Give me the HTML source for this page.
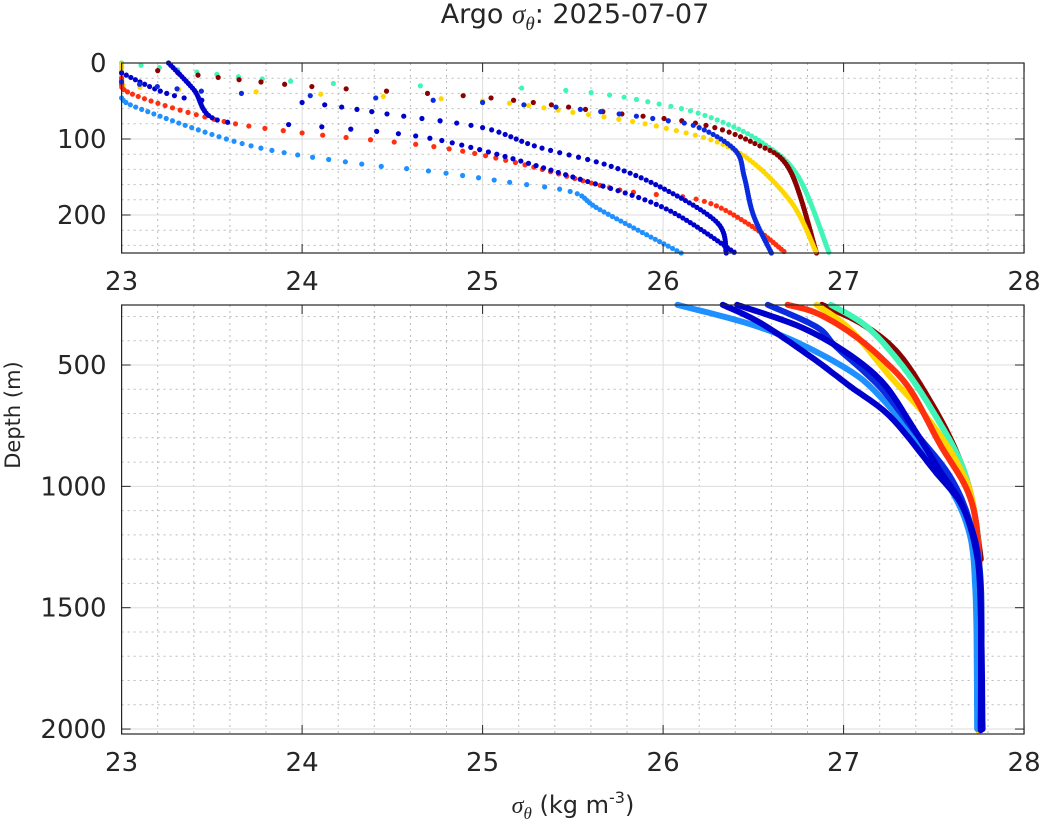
<!DOCTYPE html><html><head><meta charset="utf-8"><style>
body{margin:0;background:#fff}
svg text{font-family:"DejaVu Sans","Liberation Sans",sans-serif;fill:#262626}
</style></head><body>
<svg id="s" width="1044" height="835" xmlns="http://www.w3.org/2000/svg"></svg>
<script>
(function(){
const s=document.getElementById('s');const NS='http://www.w3.org/2000/svg';
function el(t,a,txt){const e=document.createElementNS(NS,t);for(const k in a)e.setAttribute(k,a[k]);if(txt!==undefined)e.textContent=txt;s.appendChild(e);return e;}
const X=v=>121.6+(v-23)*180.5;
const Yt=d=>63+d*0.76;
const Yb=d=>365+(d-500)*0.2427;
const L=121.6,R=1024;
function grid(t0,b0,Y,majors,minors){
 for(let v=23.2;v<28;v+=0.2){if(Math.abs(v-Math.round(v))<0.01)continue;el('line',{x1:X(v),x2:X(v),y1:t0,y2:b0,stroke:'#bbb','stroke-width':1,'stroke-dasharray':'2,4'});}
 minors.forEach(d=>el('line',{x1:L,x2:R,y1:Y(d),y2:Y(d),stroke:'#bbb','stroke-width':1,'stroke-dasharray':'2,4'}));
 for(let v=24;v<28;v++)el('line',{x1:X(v),x2:X(v),y1:t0,y2:b0,stroke:'#ddd','stroke-width':1});
 majors.forEach(d=>el('line',{x1:L,x2:R,y1:Y(d),y2:Y(d),stroke:'#ddd','stroke-width':1}));
}
grid(63,253,Yt,[100,200],[20,40,60,80,120,140,160,180,220,240]);
let mb=[];for(let d=300;d<=2000;d+=100)if(d%500)mb.push(d);
grid(305,734,Yb,[500,1000,1500,2000],mb);
const C={lb:'#1e90ff',db:'#0000cd',bl:'#0a2be0',rd:'#ff3010',dr:'#8b0000',ye:'#ffd700',cy:'#40f5b5'};
function cr(p,n){const out=[];for(let i=0;i<p.length-1;i++){const p0=p[Math.max(0,i-1)],p1=p[i],p2=p[i+1],p3=p[Math.min(p.length-1,i+2)];
 for(let k=0;k<n;k++){const t=k/n,t2=t*t,t3=t2*t;const f=(a,b,c,d)=>0.5*((2*b)+(-a+c)*t+(2*a-5*b+4*c-d)*t2+(-a+3*b-3*c+d)*t3);
 out.push([f(p0[0],p1[0],p2[0],p3[0]),f(p0[1],p1[1],p2[1],p3[1])]);}}out.push(p[p.length-1]);return out;}
const topP=[
['cy',[[23,0],[24,25],[25.4,35],[26,55],[26.3,75],[26.55,105],[26.75,150],[26.92,250]]],
['dr',[[23.2,10],[24,30],[25,45],[25.7,65],[26.2,80],[26.5,105],[26.7,140],[26.85,250]]],
['ye',[[23,2],[23.03,30],[24,40],[25,50],[25.5,65],[26,85],[26.4,115],[26.7,180],[26.85,250]]],
['lb',[[23,46],[23.1,60],[23.7,108],[24.3,132],[24.7,142],[25.15,157],[25.5,170],[25.65,193],[26.1,250]]],
['rd',[[23,20],[23.05,40],[23.53,75],[24,92],[24.73,110],[25.2,132],[25.76,167],[26.2,180],[26.48,213],[26.68,250]]],
['db',[[23.26,0],[23.4,35],[23.53,75],[24,82],[24.6,95],[25,115],[25.5,150],[26,190],[26.4,250]]],
['db',[[23,13],[23.25,40],[23.5,50],[24,52],[24.5,68],[25,85],[25.3,110],[25.7,135],[26,165],[26.3,210],[26.35,250]]],
['bl',[[23,25],[23.5,38],[24.3,45],[25,52],[25.5,60],[26,75],[26.2,85],[26.4,115],[26.45,150],[26.5,200],[26.6,250]]],
];
function interp(p,d){for(let i=1;i<p.length;i++){if(d<=p[i][1]){const f=(d-p[i-1][1])/((p[i][1]-p[i-1][1])||1);return p[i-1][0]+(p[i][0]-p[i-1][0])*f;}}return p[p.length-1][0];}
topP.forEach(([c,p])=>{const q=cr(p,20);for(let d=p[0][1];d<=250;d+=3){const v=Math.max(23,interp(q,d));el('circle',{cx:X(v),cy:Yt(d),r:2.6,fill:C[c]});}});
const bot=[
['dr',[[26.88,252],[27.1,330],[27.3,450],[27.48,650],[27.62,850],[27.71,1050],[27.76,1300]]],
['cy',[[26.93,252],[27.13,343],[27.33,508],[27.5,698],[27.65,904],[27.72,1097],[27.75,1300],[27.75,1750]]],
['ye',[[26.85,252],[27.04,356],[27.26,549],[27.46,714],[27.63,904],[27.72,1085],[27.75,1427],[27.75,2010]]],
['rd',[[26.69,252],[26.85,286],[27.04,368],[27.22,479],[27.37,603],[27.53,821],[27.7,1044],[27.75,1290],[27.76,1700]]],
['lb',[[26.08,252],[26.58,356],[27.0,508],[27.22,644],[27.5,904],[27.68,1150],[27.73,1427],[27.74,2000]]],
['bl',[[26.58,252],[26.85,343],[26.96,426],[27.2,590],[27.4,780],[27.59,960],[27.7,1150],[27.76,1400],[27.76,2000]]],
['db',[[26.41,252],[26.76,343],[27.02,451],[27.22,575],[27.37,740],[27.53,932],[27.67,1100],[27.75,1350],[27.77,2000]]],
['db',[[26.33,252],[26.54,327],[26.82,467],[27.04,590],[27.26,714],[27.5,932],[27.66,1085],[27.74,1290],[27.76,1500],[27.76,2005]]],
];
bot.forEach(([c,p])=>el('polyline',{points:cr(p,12).map(([v,d])=>X(v).toFixed(1)+','+Yb(d).toFixed(1)).join(' '),fill:'none',stroke:C[c],'stroke-width':6,'stroke-linecap':'round','stroke-linejoin':'round'}));
function box(t0,b0,Y,ticks){
 el('rect',{x:L,y:t0,width:R-L,height:b0-t0,fill:'none',stroke:'#262626','stroke-width':1.2});
 for(let v=23;v<=28;v++){el('line',{x1:X(v),x2:X(v),y1:b0,y2:b0-9,stroke:'#262626'});el('line',{x1:X(v),x2:X(v),y1:t0,y2:t0+9,stroke:'#262626'});
  el('text',{x:X(v),y:b0+37,'font-size':26,'text-anchor':'middle'},String(v));}
 ticks.forEach(d=>{el('line',{x1:L,x2:L+9,y1:Y(d),y2:Y(d),stroke:'#262626'});el('line',{x1:R,x2:R-9,y1:Y(d),y2:Y(d),stroke:'#262626'});
  el('text',{x:L-15,y:Y(d)+9,'font-size':26,'text-anchor':'end'},String(d));});
}
box(63,253,Yt,[0,100,200]);
box(305,734,Yb,[500,1000,1500,2000]);
function tsp(parent,txt,attrs){const t=document.createElementNS(NS,'tspan');for(const k in attrs)t.setAttribute(k,attrs[k]);t.textContent=txt;parent.appendChild(t);}
const ti=el('text',{x:575,y:23,'font-size':27,'text-anchor':'middle'});
tsp(ti,'Argo ',{});tsp(ti,'σ',{'font-family':'Liberation Serif','font-style':'italic'});tsp(ti,'θ',{'font-family':'Liberation Serif','font-style':'italic','font-size':19,dy:7});tsp(ti,': 2025-07-07',{dy:-7});
const xl=el('text',{x:573,y:813,'font-size':24,'text-anchor':'middle'});
tsp(xl,'σ',{'font-family':'Liberation Serif','font-style':'italic'});tsp(xl,'θ',{'font-family':'Liberation Serif','font-style':'italic','font-size':17,dy:6});tsp(xl,' (kg m',{dy:-6});tsp(xl,'-3',{'font-size':16,dy:-10});tsp(xl,')',{dy:10});
el('text',{x:20,y:415,'font-size':21,'text-anchor':'middle',transform:'rotate(-90 20 415)'},'Depth (m)');
})();
</script>
</body></html>
